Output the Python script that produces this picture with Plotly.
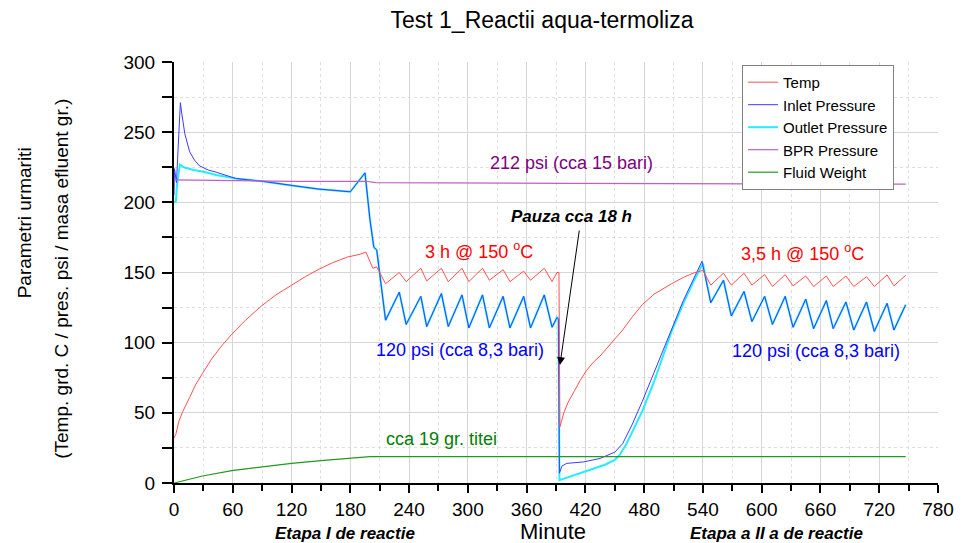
import plotly.graph_objects as go

# ---------------- data ----------------
temp_t = [0, 2, 5, 9, 16, 22, 29, 39, 49, 59, 73, 89, 104, 120, 134, 147, 162, 177, 190, 196,
          199, 203, 207, 210, 213, 216, 230, 237, 252, 258, 273, 280, 294, 301, 315, 322, 336, 343,
          357, 364, 378, 386, 391, 393, 394, 396, 398, 402, 408, 415, 421, 428, 435, 447, 458, 468,
          478, 490, 500, 508, 520, 530, 540, 548, 561, 569, 582, 590, 603, 611, 624, 632, 645, 653,
          666, 673, 686, 694, 707, 715, 728, 735, 747]
temp_v = [32, 35, 44, 51, 61, 70, 78, 89, 98, 106, 116, 126, 134, 141, 147, 152, 157, 161, 163, 164.5,
          160, 153, 154, 150, 146, 142, 150, 143.5, 153, 144, 153, 143.5, 153, 143.5, 153, 144.5, 152, 143.5,
          151, 144.5, 153, 143.5, 150, 150, 40, 45, 50, 57, 65, 73.5, 80, 86, 90.5, 100, 109, 118.5,
          127, 134.5, 139, 142, 146.5, 149.5, 151.5, 141, 149.5, 141, 149.5, 141, 148.5, 140, 148.5, 140.5, 147.5, 140,
          147.5, 140, 147.5, 140, 147, 140, 148.3, 140.5, 148]

inlet_t = [0, 0.5, 2.5, 4.5, 6.5, 8, 11, 16, 21, 26, 35, 43, 63, 90, 120, 147, 180, 195, 200, 204,
           207, 210, 216, 230, 237, 252, 258, 273, 280, 294, 301, 315, 322, 336, 343, 357, 364, 378,
           386, 391, 392.5, 393.5, 396, 401, 418, 435, 450, 458, 468, 478, 491, 505, 520, 539, 548,
           561, 569, 582, 590, 603, 611, 624, 632, 645, 653, 666, 673, 686, 694, 707, 715, 728, 735, 747]
inlet_v = [205, 224, 214, 245, 271, 263, 249, 236, 230, 226, 223, 221.5, 217, 215, 212, 209.5, 207.5, 221, 188, 168,
           166, 150, 116, 136, 113, 133, 111.5, 135, 111.5, 134, 110.5, 134, 110.5, 133, 110.5, 133, 110.5, 134,
           111, 118, 117, 7, 12, 14, 15, 17.5, 22, 28, 42, 58, 80, 104, 130, 158, 128.5,
           144.5, 119, 136.5, 115, 133, 113, 133, 111, 131, 110, 130, 110, 129, 109, 129, 108, 128, 109, 127]

outlet_t = [0, 2, 3, 6, 10, 20, 29, 43, 63, 90, 120, 147, 180, 195, 200, 204,
            207, 210, 216, 230, 237, 252, 258, 273, 280, 294, 301, 315, 322, 336, 343, 357, 364, 378,
            386, 391, 392.5, 393.5, 400, 420, 440, 450, 455, 462, 470, 478, 490, 500, 508, 520, 530, 540, 548,
            561, 569, 582, 590, 603, 611, 624, 632, 645, 653, 666, 673, 686, 694, 707, 715, 728, 735, 747]
outlet_v = [200, 201, 212, 227, 225, 223, 222, 219.5, 217, 215, 212, 209.5, 207.5, 221, 188, 168,
            166, 150, 116, 136, 113, 133, 111.5, 135, 111.5, 134, 110.5, 134, 110.5, 133, 110.5, 133, 110.5, 134,
            111, 118, 117, 2, 3.5, 8.5, 13, 16.5, 20, 28, 39, 51, 72, 92, 108, 128, 143, 156.5, 128.5,
            144.5, 119, 136.5, 115, 133, 113, 133, 111, 131, 110, 130, 110, 129, 109, 129, 108, 128, 109, 127]

bpr_t = [0, 120, 196, 206, 400, 747]
bpr_v = [216, 215, 215, 214, 213.5, 213]

fluid_t = [0, 10, 29, 59, 89, 120, 150, 180, 200, 747]
fluid_v = [0, 1.8, 5, 8.8, 11.6, 14, 15.9, 17.6, 18.8, 18.8]

x_ticks = list(range(0, 781, 60))
y_ticks = list(range(0, 301, 50))

FONT = "Liberation Sans, Arial, sans-serif"

fig = go.Figure()
fig.add_trace(go.Scatter(x=outlet_t, y=outlet_v, mode="lines", name="Outlet Pressure",
                         line=dict(color="#22eeff", width=2), legendrank=3))
fig.add_trace(go.Scatter(x=inlet_t, y=inlet_v, mode="lines", name="Inlet Pressure",
                         line=dict(color="#3b3bff", width=1), legendrank=2))
fig.add_trace(go.Scatter(x=temp_t, y=temp_v, mode="lines", name="Temp",
                         line=dict(color="#ff5050", width=1), legendrank=1))
fig.add_trace(go.Scatter(x=bpr_t, y=bpr_v, mode="lines", name="BPR Pressure",
                         line=dict(color="#c060c0", width=1.2), legendrank=4))
fig.add_trace(go.Scatter(x=fluid_t, y=fluid_v, mode="lines", name="Fluid Weight",
                         line=dict(color="#1f9a1f", width=1.2), legendrank=5))

fig.update_layout(
    width=966, height=543,
    margin=dict(l=174, r=16, t=62, b=60),
    paper_bgcolor="white", plot_bgcolor="white",
    font=dict(family=FONT, color="black"),
    title=dict(text="Test 1_Reactii aqua-termoliza", x=542 / 966, xanchor="center",
               y=1 - 20 / 543, yanchor="middle", font=dict(size=23, color="black")),
    showlegend=True,
    legend=dict(x=(751 - 174) / 776, y=0.993, xanchor="left", yanchor="top", bgcolor="white",
                bordercolor="#808080", borderwidth=1, font=dict(size=15),
                tracegroupgap=0),
)

fig.update_xaxes(range=[0, 780], tickvals=x_ticks, ticks="outside", ticklen=8, tickwidth=1.5,
                 tickcolor="black", showline=True, linecolor="black", linewidth=2,
                 showgrid=True, gridcolor="#d6d6d6", gridwidth=1, zeroline=False,
                 tickfont=dict(size=19),
                 minor=dict(dtick=30, ticks="outside", ticklen=6, tickcolor="black",
                            showgrid=True, gridcolor="#dedede", griddash="dot"))
fig.update_yaxes(range=[0, 300], tickvals=y_ticks, ticks="outside", ticklen=10, tickwidth=1.5,
                 tickcolor="black", showline=True, linecolor="black", linewidth=2,
                 showgrid=True, gridcolor="#d6d6d6", gridwidth=1, zeroline=False,
                 tickfont=dict(size=19), ticklabelstandoff=3,
                 minor=dict(dtick=25, ticks="outside", ticklen=10, tickcolor="black",
                            showgrid=True, gridcolor="#dedede", griddash="dot"))

ann = [
    dict(x=406, y=228, text="212 psi (cca 15 bari)", color="#800080"),
    dict(x=311, y=166, text="3 h @ 150 <sup>o</sup>C", color="#ff0000"),
    dict(x=642, y=164, text="3,5 h @ 150 <sup>o</sup>C", color="#ff0000"),
    dict(x=292, y=95, text="120 psi (cca 8,3 bari)", color="#0000ff"),
    dict(x=655, y=94, text="120 psi (cca 8,3 bari)", color="#0000ff"),
    dict(x=273, y=31.5, text="cca 19 gr. titei", color="#008000"),
]
for a in ann:
    fig.add_annotation(x=a["x"], y=a["y"], xref="x", yref="y", text=a["text"], showarrow=False,
                       font=dict(size=18, color=a["color"]), xanchor="center", yanchor="middle")

fig.add_annotation(x=406, y=190, xref="x", yref="y", text="<b><i>Pauza cca 18 h</i></b>",
                   showarrow=False, font=dict(size=17, color="black"),
                   xanchor="center", yanchor="middle")
fig.add_annotation(x=394, y=84, xref="x", yref="y", ax=414, ay=181, axref="x", ayref="y",
                   text="", showarrow=True, arrowhead=2, arrowsize=1.6, arrowwidth=1,
                   arrowcolor="black")

# bottom labels
fig.add_annotation(x=(348 - 174) / 776, y=(483 - 533) / 421, xref="paper", yref="paper",
                   text="<b><i>Etapa I de reactie</i></b>", showarrow=False,
                   font=dict(size=17), xanchor="center", yanchor="middle")
fig.add_annotation(x=(786 - 174) / 776, y=(483 - 533) / 421, xref="paper", yref="paper",
                   text="<b><i>Etapa a II a de reactie</i></b>", showarrow=False,
                   font=dict(size=17), xanchor="center", yanchor="middle")
fig.add_annotation(x=(559 - 174) / 776, y=(483 - 531) / 421, xref="paper", yref="paper",
                   text="Minute", showarrow=False, font=dict(size=22),
                   xanchor="center", yanchor="middle")

# y axis title (two lines)
fig.add_annotation(x=(22 - 174) / 776, y=(483 - 223) / 421, xref="paper", yref="paper",
                   text="Parametri urmariti", textangle=-90, showarrow=False,
                   font=dict(size=19), xanchor="center", yanchor="middle")
fig.add_annotation(x=(59 - 174) / 776, y=(483 - 279) / 421, xref="paper", yref="paper",
                   text="(Temp. grd. C / pres. psi / masa efluent gr.)", textangle=-90,
                   showarrow=False, font=dict(size=19), xanchor="center", yanchor="middle")

fig.write_html("out.html")
